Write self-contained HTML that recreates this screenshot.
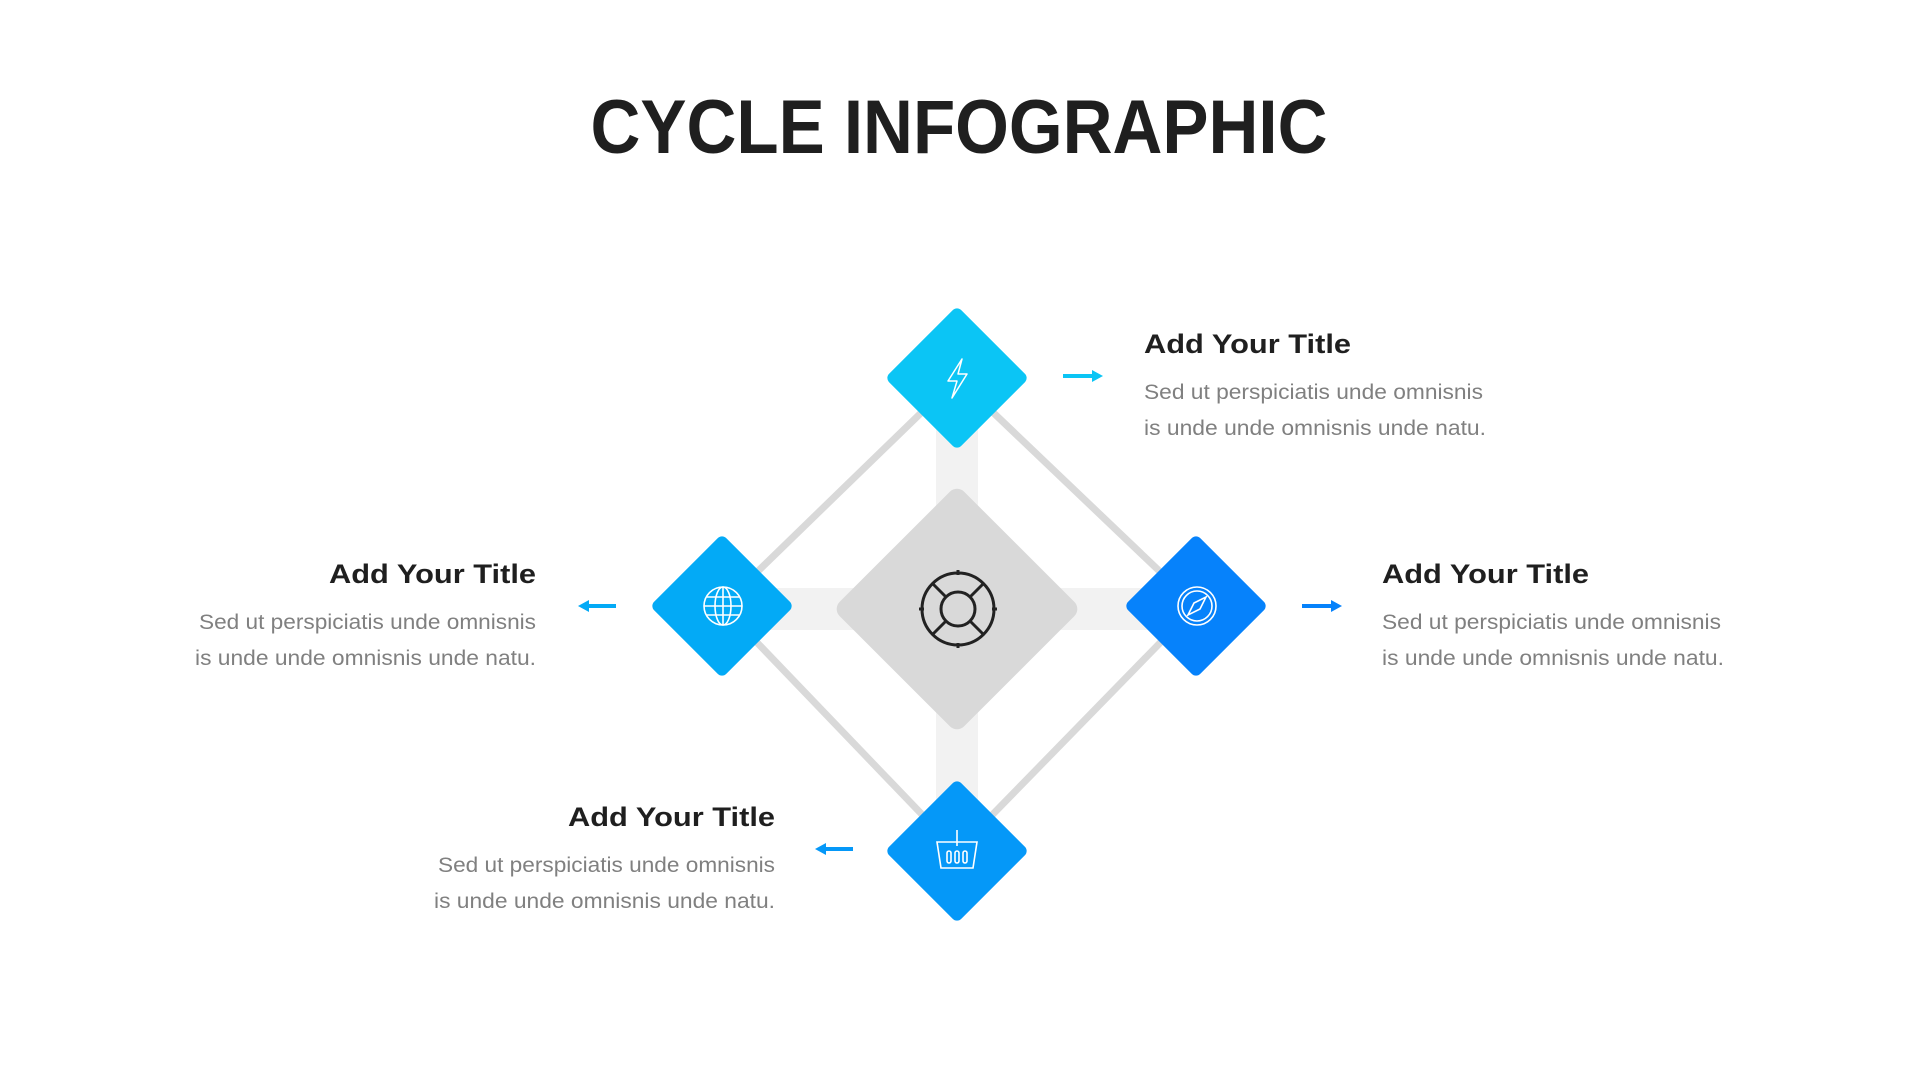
<!DOCTYPE html>
<html><head><meta charset="utf-8"><style>
html,body{margin:0;padding:0;background:#fff;}
svg{display:block;}
text{font-family:"Liberation Sans",sans-serif;}
</style></head><body>
<svg width="1920" height="1080" viewBox="0 0 1920 1080" xmlns="http://www.w3.org/2000/svg">
<text x="959" y="153" text-anchor="middle" font-size="76" font-weight="bold" fill="#1f1f1f" textLength="737" lengthAdjust="spacingAndGlyphs">CYCLE INFOGRAPHIC</text>

<rect x="936" y="378" width="42" height="473" fill="#f2f2f2"/>
<rect x="722" y="588" width="474" height="42" fill="#f2f2f2"/>
<polygon points="957,378 1196,606 957,851 722,606" fill="none" stroke="#d9d9d9" stroke-width="7"/>
<rect x="869" y="521" width="176" height="176" rx="10" fill="#d9d9d9" transform="rotate(45 957 609)"/>
<g fill="none" stroke="#222" stroke-width="3">
<circle cx="958" cy="609" r="36"/>
<circle cx="958" cy="609" r="17"/>
<line x1="946" y1="597" x2="933" y2="584"/><line x1="970" y1="597" x2="983" y2="584"/>
<line x1="946" y1="621" x2="933" y2="634"/><line x1="970" y1="621" x2="983" y2="634"/>
<line x1="958" y1="570" x2="958" y2="575"/><line x1="958" y1="643" x2="958" y2="648"/>
<line x1="919" y1="609" x2="924" y2="609"/><line x1="992" y1="609" x2="997" y2="609"/>
</g>

<rect x="906" y="327" width="102" height="102" rx="6" fill="#0bc5f5" transform="rotate(45 957 378)"/>
<rect x="671" y="555" width="102" height="102" rx="6" fill="#03aaf6" transform="rotate(45 722 606)"/>
<rect x="1145" y="555" width="102" height="102" rx="6" fill="#0682fb" transform="rotate(45 1196 606)"/>
<rect x="906" y="800" width="102" height="102" rx="6" fill="#0598f8" transform="rotate(45 957 851)"/>

<path d="M962 359 L948 381 L957 381 L952 398 L967 374 L958 374 Z" fill="none" stroke="#fff" stroke-width="1.5" stroke-linejoin="round"/>
<g fill="none" stroke="#fff" stroke-width="1.6">
<circle cx="723" cy="606" r="19"/>
<ellipse cx="723" cy="606" rx="8" ry="19"/>
<line x1="723" y1="587" x2="723" y2="625"/>
<line x1="704" y1="606" x2="742" y2="606"/>
<line x1="707" y1="597" x2="739" y2="597"/><line x1="707" y1="615" x2="739" y2="615"/>
</g>
<g fill="none" stroke="#fff" stroke-width="1.6">
<circle cx="1197" cy="606" r="19"/><circle cx="1197" cy="606" r="15"/>
<path d="M1206 597 L1200 609 L1188 615 L1194 603 Z"/>
</g>
<g fill="none" stroke="#fff" stroke-width="1.6">
<path d="M937 842 L977 842 L973 868 L941 868 Z"/>
<line x1="957" y1="830" x2="957" y2="846"/>
<rect x="947" y="851" width="4" height="12" rx="2"/><rect x="955" y="851" width="4" height="12" rx="2"/><rect x="963" y="851" width="4" height="12" rx="2"/>
</g>

<g stroke-width="4">
<line x1="1063" y1="376" x2="1094" y2="376" stroke="#0bc5f5"/><polygon points="1092,370 1103,376 1092,382" fill="#0bc5f5"/>
<line x1="1302" y1="606" x2="1333" y2="606" stroke="#0682fb"/><polygon points="1331,600 1342,606 1331,612" fill="#0682fb"/>
<line x1="586" y1="606" x2="616" y2="606" stroke="#03aaf6"/><polygon points="589,600 578,606 589,612" fill="#03aaf6"/>
<line x1="823" y1="849" x2="853" y2="849" stroke="#0598f8"/><polygon points="826,843 815,849 826,855" fill="#0598f8"/>
</g>

<g font-size="27" font-weight="bold" fill="#1f1f1f">
<text x="1144" y="353" textLength="207" lengthAdjust="spacingAndGlyphs">Add Your Title</text>
<text x="1382" y="583" textLength="207" lengthAdjust="spacingAndGlyphs">Add Your Title</text>
<text x="536" y="583" text-anchor="end" textLength="207" lengthAdjust="spacingAndGlyphs">Add Your Title</text>
<text x="775" y="826" text-anchor="end" textLength="207" lengthAdjust="spacingAndGlyphs">Add Your Title</text>
</g>
<g font-size="21" fill="#808080">
<text x="1144" y="399" textLength="339" lengthAdjust="spacingAndGlyphs">Sed ut perspiciatis unde omnisnis</text>
<text x="1144" y="435" textLength="342" lengthAdjust="spacingAndGlyphs">is unde unde omnisnis unde natu.</text>
<text x="1382" y="629" textLength="339" lengthAdjust="spacingAndGlyphs">Sed ut perspiciatis unde omnisnis</text>
<text x="1382" y="665" textLength="342" lengthAdjust="spacingAndGlyphs">is unde unde omnisnis unde natu.</text>
<text x="536" y="629" text-anchor="end" textLength="337" lengthAdjust="spacingAndGlyphs">Sed ut perspiciatis unde omnisnis</text>
<text x="536" y="665" text-anchor="end" textLength="341" lengthAdjust="spacingAndGlyphs">is unde unde omnisnis unde natu.</text>
<text x="775" y="872" text-anchor="end" textLength="337" lengthAdjust="spacingAndGlyphs">Sed ut perspiciatis unde omnisnis</text>
<text x="775" y="908" text-anchor="end" textLength="341" lengthAdjust="spacingAndGlyphs">is unde unde omnisnis unde natu.</text>
</g>
</svg>
</body></html>
